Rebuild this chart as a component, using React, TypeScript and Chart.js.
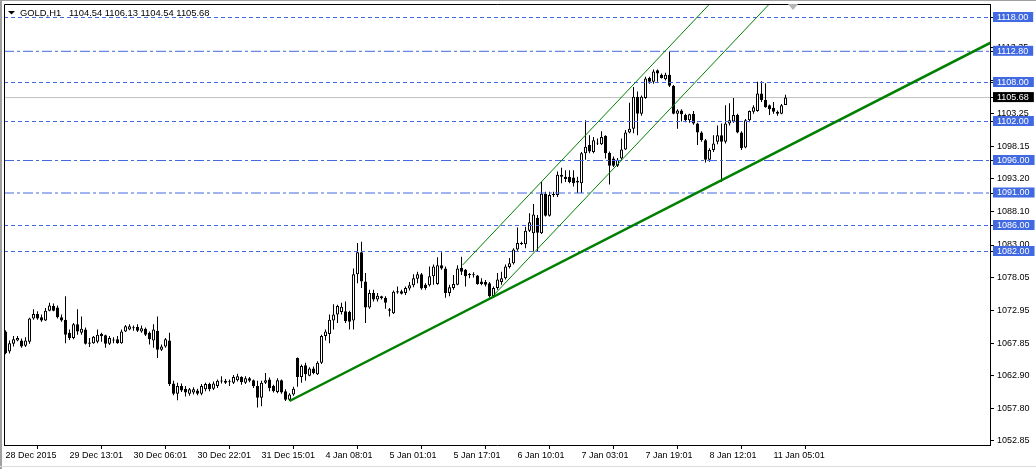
import { useEffect, useRef } from 'react';
import { Chart, registerables } from 'chart.js';

Chart.register(...registerables);

// ---- data (GOLD, H1) ----
const opens = [
  1069.7, 1066.6, 1067.8, 1068.3, 1068.3, 1067.5, 1068.1, 1071.7, 1072.4, 1071.9,
  1071.4, 1072.9, 1073.6, 1073.4, 1071.9, 1071.5, 1069.5, 1068.7, 1070.8, 1069.5,
  1070.0, 1067.8, 1067.9, 1068.1, 1069.3, 1069.1, 1067.8, 1068.3, 1068.5, 1067.9,
  1069.7, 1070.0, 1070.2, 1070.4, 1069.7, 1070.1, 1069.5, 1068.3, 1069.8, 1066.9,
  1067.4, 1068.3, 1061.7, 1060.1, 1061.3, 1060.9, 1060.1, 1060.3, 1060.6, 1060.1,
  1060.8, 1061.6, 1060.9, 1061.3, 1062.0, 1061.8, 1061.9, 1061.8, 1062.2, 1062.7,
  1061.8, 1062.5, 1062.2, 1061.3, 1059.5, 1061.8, 1062.3, 1061.3, 1060.4, 1062.2,
  1060.5, 1059.2, 1060.0, 1065.6, 1062.7, 1064.5, 1062.9, 1064.0, 1063.1, 1064.9,
  1069.0, 1069.3, 1071.4, 1072.3, 1072.7, 1072.8, 1072.7, 1071.4, 1078.5, 1081.9,
  1077.4, 1073.4, 1075.6, 1074.6, 1075.1, 1074.9, 1073.1, 1072.5, 1075.7, 1075.9,
  1075.6, 1076.3, 1076.8, 1077.8, 1078.5, 1076.9, 1076.8, 1078.2, 1077.0, 1079.9,
  1079.4, 1075.6, 1076.4, 1076.9, 1079.5, 1079.2, 1078.4, 1078.5, 1078.3, 1077.4,
  1077.3, 1077.1, 1075.1, 1076.4, 1077.3, 1077.9, 1079.6, 1080.2, 1082.3, 1083.3,
  1083.1, 1085.2, 1084.8, 1087.2, 1084.8, 1090.9, 1087.5, 1090.7, 1090.7, 1093.5,
  1093.5, 1093.5, 1093.4, 1092.6, 1092.5, 1097.1, 1098.4, 1097.3, 1098.6, 1098.5,
  1099.8, 1097.2, 1096.3, 1095.2, 1096.3, 1097.7, 1100.3, 1100.9, 1105.8, 1103.2,
  1105.6, 1108.7, 1108.1, 1109.9, 1109.2, 1108.5, 1109.2, 1107.5, 1103.2, 1103.7,
  1103.0, 1102.2, 1103.2, 1101.7, 1100.3, 1099.1, 1096.1, 1097.6, 1098.9, 1099.9,
  1098.9, 1101.7, 1102.0, 1103.0, 1100.3, 1098.0, 1102.2, 1103.5, 1103.6, 1106.3,
  1105.3, 1104.5, 1104.1, 1103.5, 1103.2, 1104.54,
];
const highs = [
  1069.9, 1068.3, 1069.0, 1069.0, 1068.6, 1068.8, 1071.8, 1073.1, 1072.8, 1072.3,
  1073.3, 1074.1, 1074.0, 1073.7, 1072.3, 1075.1, 1070.0, 1071.0, 1073.1, 1072.0,
  1070.3, 1068.7, 1069.0, 1070.0, 1069.5, 1069.2, 1069.0, 1068.8, 1069.0, 1070.0,
  1070.7, 1070.8, 1070.6, 1070.8, 1070.6, 1070.3, 1069.7, 1070.8, 1072.0, 1067.7,
  1068.7, 1069.5, 1062.1, 1061.8, 1061.7, 1061.3, 1061.0, 1061.1, 1060.9, 1061.6,
  1061.8, 1061.8, 1062.0, 1062.3, 1062.8, 1062.4, 1062.3, 1063.0, 1063.2, 1062.8,
  1062.8, 1062.7, 1062.3, 1062.1, 1062.1, 1063.3, 1062.6, 1061.5, 1062.5, 1062.3,
  1060.8, 1060.2, 1061.2, 1065.7, 1064.6, 1064.9, 1064.2, 1064.3, 1065.1, 1069.2,
  1070.0, 1072.3, 1073.9, 1073.8, 1074.1, 1074.3, 1072.9, 1079.4, 1083.3, 1083.5,
  1078.7, 1076.1, 1076.1, 1075.6, 1075.2, 1075.1, 1073.3, 1076.0, 1076.6, 1076.1,
  1076.6, 1077.3, 1078.5, 1078.9, 1078.7, 1077.1, 1079.7, 1080.0, 1081.1, 1081.9,
  1079.7, 1076.9, 1078.4, 1079.9, 1081.2, 1079.3, 1078.7, 1078.8, 1078.4, 1077.9,
  1077.6, 1077.3, 1076.6, 1078.7, 1078.9, 1080.0, 1081.0, 1082.5, 1085.7, 1083.5,
  1085.8, 1087.9, 1089.3, 1087.6, 1092.7, 1091.2, 1091.2, 1091.2, 1094.3, 1094.9,
  1094.5, 1094.5, 1094.5, 1093.5, 1097.3, 1102.2, 1099.9, 1099.6, 1099.4, 1100.5,
  1099.9, 1097.4, 1096.6, 1096.4, 1099.4, 1100.7, 1104.9, 1107.3, 1106.6, 1106.0,
  1108.9, 1108.9, 1110.0, 1110.0, 1109.4, 1109.5, 1112.7, 1107.6, 1103.9, 1103.9,
  1103.2, 1103.2, 1103.6, 1101.8, 1100.5, 1099.3, 1097.9, 1099.9, 1101.4, 1101.7,
  1104.5, 1104.8, 1105.6, 1103.2, 1100.5, 1102.4, 1103.7, 1104.5, 1108.1, 1108.2,
  1107.9, 1104.6, 1105.0, 1103.7, 1104.7, 1106.13,
];
const lows = [
  1066.2, 1066.3, 1067.4, 1068.2, 1067.2, 1067.3, 1067.8, 1071.5, 1071.5, 1071.2,
  1071.3, 1072.8, 1072.8, 1071.7, 1071.2, 1067.9, 1068.4, 1068.5, 1069.2, 1069.2,
  1067.7, 1067.3, 1067.8, 1067.9, 1068.1, 1067.2, 1067.6, 1067.9, 1067.8, 1067.8,
  1069.6, 1069.9, 1069.8, 1069.6, 1069.5, 1069.0, 1067.7, 1067.2, 1065.6, 1066.7,
  1067.2, 1061.3, 1059.9, 1059.1, 1060.4, 1059.7, 1059.8, 1060.0, 1059.9, 1059.9,
  1060.5, 1060.5, 1060.7, 1061.0, 1061.7, 1061.6, 1061.3, 1061.6, 1062.0, 1061.5,
  1061.6, 1061.9, 1061.0, 1058.0, 1058.2, 1061.6, 1060.5, 1060.3, 1060.2, 1060.1,
  1059.0, 1059.0, 1059.8, 1061.2, 1061.8, 1062.1, 1062.8, 1063.1, 1063.0, 1064.7,
  1068.3, 1067.9, 1070.0, 1071.0, 1072.3, 1071.0, 1070.0, 1070.0, 1077.1, 1076.4,
  1071.0, 1073.2, 1074.3, 1074.3, 1074.6, 1073.2, 1072.0, 1072.4, 1075.5, 1075.4,
  1075.3, 1076.0, 1076.5, 1077.1, 1076.1, 1076.1, 1076.6, 1076.9, 1076.9, 1079.2,
  1074.9, 1075.1, 1076.1, 1076.8, 1078.4, 1076.6, 1077.9, 1078.0, 1076.9, 1076.8,
  1076.6, 1074.9, 1074.9, 1076.1, 1076.9, 1077.7, 1079.4, 1080.0, 1082.1, 1083.0,
  1082.5, 1085.0, 1082.0, 1082.0, 1084.7, 1087.4, 1087.4, 1090.4, 1090.4, 1092.5,
  1092.7, 1092.5, 1092.0, 1091.0, 1091.0, 1096.1, 1097.1, 1097.1, 1098.4, 1098.4,
  1096.3, 1092.3, 1095.0, 1095.0, 1096.1, 1097.6, 1100.2, 1100.2, 1099.9, 1102.9,
  1105.5, 1107.8, 1107.8, 1108.1, 1108.6, 1108.3, 1107.3, 1103.1, 1100.9, 1102.0,
  1101.9, 1101.8, 1101.5, 1098.4, 1098.9, 1095.7, 1095.8, 1097.3, 1098.5, 1092.7,
  1098.6, 1101.4, 1101.8, 1100.2, 1097.6, 1097.9, 1101.9, 1103.2, 1103.5, 1105.0,
  1104.1, 1103.0, 1103.2, 1102.9, 1103.1, 1104.54,
];
const closes = [
  1066.4, 1067.9, 1068.5, 1068.7, 1067.4, 1068.3, 1071.7, 1072.4, 1071.7, 1071.4,
  1072.9, 1073.7, 1072.9, 1071.9, 1071.4, 1069.2, 1068.7, 1070.8, 1069.7, 1070.1,
  1067.8, 1068.0, 1068.9, 1069.2, 1069.0, 1067.8, 1068.7, 1068.45, 1067.9, 1069.7,
  1070.5, 1070.5, 1070.35, 1069.8, 1070.2, 1069.2, 1068.5, 1070.0, 1066.9, 1067.4,
  1068.5, 1061.6, 1060.1, 1061.3, 1060.6, 1060.3, 1060.8, 1060.8, 1060.1, 1061.3,
  1061.6, 1060.8, 1061.7, 1062.1, 1062.15, 1062.1, 1062.05, 1062.7, 1062.8, 1061.9,
  1062.5, 1062.1, 1061.3, 1059.5, 1061.8, 1062.2, 1061.0, 1060.5, 1062.2, 1060.3,
  1059.2, 1060.0, 1060.9, 1062.7, 1064.4, 1063.1, 1064.0, 1063.3, 1064.9, 1069.0,
  1069.7, 1071.5, 1072.3, 1073.6, 1073.5, 1071.3, 1071.2, 1078.5, 1081.9, 1077.4,
  1073.4, 1075.6, 1074.6, 1075.2, 1074.8, 1074.1, 1072.9, 1075.8, 1075.9, 1075.5,
  1076.4, 1076.8, 1077.9, 1078.5, 1076.3, 1076.4, 1078.2, 1079.7, 1079.9, 1079.4,
  1075.6, 1076.5, 1077.0, 1079.4, 1078.9, 1078.2, 1078.55, 1078.35, 1077.0, 1077.0,
  1076.9, 1075.1, 1076.4, 1077.7, 1077.9, 1079.7, 1080.2, 1082.3, 1083.3, 1083.15,
  1085.2, 1086.5, 1087.7, 1084.9, 1090.9, 1087.5, 1090.7, 1090.85, 1093.8, 1093.8,
  1093.1, 1092.7, 1092.5, 1092.9, 1097.1, 1098.1, 1097.4, 1099.1, 1098.75, 1099.6,
  1097.1, 1095.2, 1095.2, 1096.1, 1097.7, 1100.3, 1100.9, 1105.8, 1103.2, 1105.8,
  1108.6, 1108.1, 1109.7, 1109.4, 1108.7, 1109.2, 1107.5, 1103.2, 1103.7, 1103.1,
  1102.2, 1103.1, 1101.7, 1100.3, 1099.1, 1096.1, 1097.6, 1098.6, 1099.9, 1098.9,
  1101.7, 1102.2, 1103.0, 1100.3, 1097.9, 1102.2, 1103.6, 1104.2, 1106.3, 1105.3,
  1104.2, 1103.9, 1103.5, 1103.2, 1104.5, 1105.68,
];

const timeTickBars = [0, 16, 32, 48, 64, 80, 96, 112, 128, 144, 160, 176, 192];
const timeTickLabels = [
  '28 Dec 2015', '29 Dec 13:01', '30 Dec 06:01', '30 Dec 22:01', '31 Dec 15:01',
  '4 Jan 08:01', '5 Jan 01:01', '5 Jan 17:01', '6 Jan 10:01', '7 Jan 03:01',
  '7 Jan 19:01', '8 Jan 12:01', '11 Jan 05:01',
];
const priceTicks = [
  1052.85, 1057.8, 1062.9, 1067.85, 1072.95, 1078.05, 1083.0, 1088.1, 1093.2,
  1098.15, 1103.25, 1108.3, 1113.35,
];
const dashedLevels = [1118.0, 1108.0, 1102.0, 1086.0, 1082.0];
const dashDotLevels = [1112.8, 1096.0, 1091.0];
const currentPrice = 1105.68;
const supportLine = [
  { bar: 71, price: 1059.0 },
  { bar: 250, price: 1115.3 },
];
const channelUpper = [
  { bar: 114.25, price: 1079.9 },
  { bar: 185, price: 1125.9 },
];
const channelLower = [
  { bar: 122, price: 1075.25 },
  { bar: 195, price: 1122.7 },
];
const titleText = 'GOLD,H1   1104.54 1106.13 1104.54 1105.68';

// ---- view ----
const X_MIN = -0.375;
const X_MAX = 246.125;
const Y_MAX = 1120.077;
const Y_MIN = 1052.231;
const BLUE = '#4169E1';
const GREEN = '#008000';
const FONT = { family: '"Liberation Sans", Arial, sans-serif', size: 9, lineHeight: 1 };

const levelSet = new Set([...dashedLevels, ...dashDotLevels]);

export default function App() {
  const ref = useRef<HTMLCanvasElement | null>(null);

  useEffect(() => {
    document.body.style.margin = '0';
    const canvas = ref.current;
    if (!canvas) return;

    const idx = opens.map((_, i) => i);
    const levelLine = (v: number, dash: number[], color: string) => ({
      type: 'line' as const,
      data: [
        { x: X_MIN, y: v },
        { x: X_MAX, y: v },
      ],
      borderColor: color,
      borderWidth: 1,
      borderDash: dash,
      pointRadius: 0,
      clip: 0,
      order: 1,
    });
    const trend = (pts: { bar: number; price: number }[], width: number) => ({
      type: 'line' as const,
      data: pts.map((p) => ({ x: p.bar, y: p.price })),
      borderColor: GREEN,
      borderWidth: width,
      pointRadius: 0,
      clip: 0,
      order: 0,
    });

    const decor = {
      id: 'decor',
      beforeDraw(chart: any) {
        const c = chart.ctx;
        c.save();
        c.fillStyle = '#fff';
        c.fillRect(0, 0, chart.width, chart.height);
        c.restore();
      },
      afterDraw(chart: any) {
        const c = chart.ctx;
        const a = chart.chartArea;
        c.save();
        c.strokeStyle = '#000';
        c.lineWidth = 1;
        c.beginPath();
        c.moveTo(a.left + 0.5, a.bottom);
        c.lineTo(a.left + 0.5, a.top + 0.5);
        c.lineTo(a.right, a.top + 0.5);
        c.stroke();
        c.fillStyle = '#a0a0a0';
        c.fillRect(0, 0, 2, chart.height);
        c.fillRect(0, 0, chart.width, 1);
        c.fillStyle = '#dcdcdc';
        c.fillRect(0, 466, chart.width, 1);
        c.fillStyle = '#000';
        c.beginPath();
        c.moveTo(8, 11);
        c.lineTo(15, 11);
        c.lineTo(11.5, 14.5);
        c.closePath();
        c.fill();
        c.font = '9.4px "Liberation Sans", Arial, sans-serif';
        c.textBaseline = 'alphabetic';
        c.textAlign = 'left';
        c.fillText(titleText, 20, 16);
        c.fillStyle = '#b4b4b4';
        c.beginPath();
        c.moveTo(788, 4);
        c.lineTo(798, 4);
        c.lineTo(793, 10);
        c.closePath();
        c.fill();
        c.restore();
      },
    };

    const chart = new Chart(canvas, {
      type: 'bar',
      data: {
        datasets: [
          {
            type: 'bar',
            data: idx.map((i) => ({ x: i, y: [opens[i], closes[i]] })) as any,
            backgroundColor: idx.map((i) => (closes[i] >= opens[i] ? '#ffffff' : '#000000')),
            borderColor: '#000',
            borderWidth: 1,
            borderSkipped: false,
            barThickness: 3,
            grouped: false,
            inflateAmount: 0,
            order: 2,
          } as any,
          {
            type: 'bar',
            data: idx.map((i) => ({ x: i, y: [lows[i], highs[i]] })) as any,
            backgroundColor: '#000',
            borderWidth: 0,
            barThickness: 1,
            grouped: false,
            inflateAmount: 0,
            order: 3,
          } as any,
          { ...levelLine(currentPrice, [], '#c0c0c0'), order: 4 } as any,
          ...dashedLevels.map((v) => levelLine(v, [4, 3], BLUE) as any),
          ...dashDotLevels.map((v) => levelLine(v, [10, 3, 3, 3], BLUE) as any),
          trend(supportLine, 2.5) as any,
          trend(channelUpper, 1) as any,
          trend(channelLower, 1) as any,
        ],
      },
      options: {
        responsive: false,
        animation: false,
        events: [],
        layout: { padding: { left: 4, top: 4, right: 0, bottom: 0 } },
        plugins: {
          legend: { display: false },
          tooltip: { enabled: false },
        },
        scales: {
          x: {
            type: 'linear',
            min: X_MIN,
            max: X_MAX,
            offset: false,
            grid: { drawOnChartArea: false, drawTicks: true, tickLength: 4, color: '#000' },
            border: { display: true, color: '#000' },
            afterBuildTicks: (s: any) => {
              s.ticks = timeTickBars.map((v) => ({ value: v }));
            },
            afterFit: (s: any) => {
              s.height = 24;
              s.paddingLeft = 0;
              s.paddingRight = 0;
            },
            ticks: {
              autoSkip: false,
              maxRotation: 0,
              minRotation: 0,
              align: 'start',
              padding: 2,
              color: '#000',
              font: FONT,
              callback: (v: any) => {
                const k = timeTickBars.indexOf(Number(v));
                return k >= 0 ? timeTickLabels[k] : '';
              },
            },
          } as any,
          y: {
            type: 'linear',
            position: 'right',
            min: Y_MIN,
            max: Y_MAX,
            grid: { drawOnChartArea: false, drawTicks: true, tickLength: 4, color: '#000' },
            border: { display: true, color: '#000' },
            afterBuildTicks: (s: any) => {
              s.ticks = [
                ...priceTicks,
                currentPrice,
                ...[...dashedLevels, ...dashDotLevels].sort((a, b) => a - b),
              ].map((v) => ({ value: v }));
            },
            afterFit: (s: any) => {
              s.width = 46;
              s.paddingTop = 0;
              s.paddingBottom = 0;
            },
            ticks: {
              autoSkip: false,
              padding: 3,
              font: FONT,
              color: (ctx: any) => {
                const v = ctx.tick ? ctx.tick.value : 0;
                return v === currentPrice || levelSet.has(v) ? '#fff' : '#000';
              },
              showLabelBackdrop: true,
              backdropColor: (ctx: any) => {
                const v = ctx.tick ? ctx.tick.value : 0;
                if (v === currentPrice) return '#000';
                if (levelSet.has(v)) return BLUE;
                return 'rgba(0,0,0,0)';
              },
              backdropPadding: { left: 4, right: 5, top: 1, bottom: 0 },
              callback: (v: any) => Number(v).toFixed(2),
            },
          } as any,
        },
      },
      plugins: [decor],
    });

    return () => chart.destroy();
  }, []);

  return (
    <canvas
      ref={ref}
      width={1036}
      height={469}
      style={{ display: 'block', width: '1036px', height: '469px' }}
    />
  );
}
